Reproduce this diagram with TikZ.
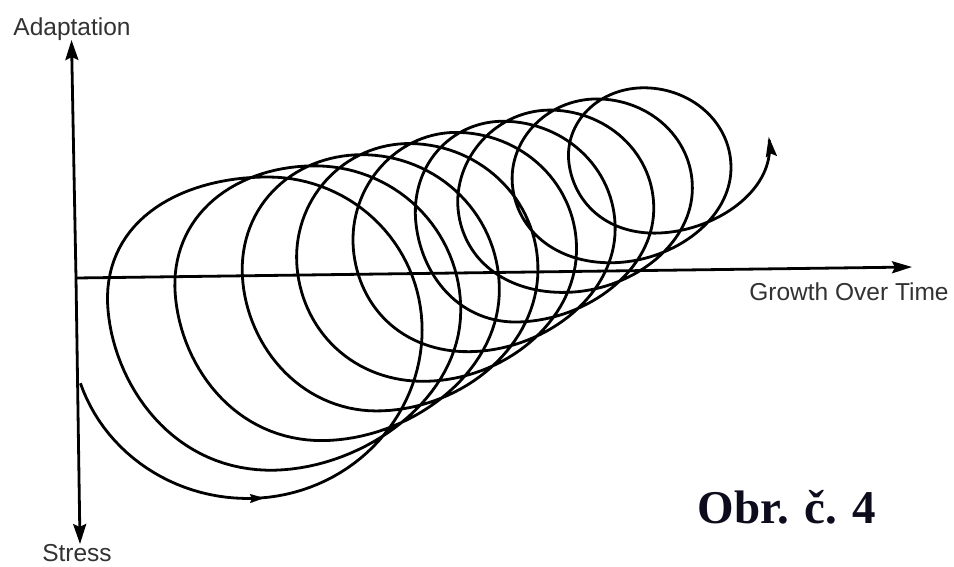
\documentclass[tikz,border=0pt]{standalone}
\usepackage{fontspec}
\setmainfont{Liberation Sans}
\newfontfamily\obrfont{Liberation Serif}
\usetikzlibrary{arrows.meta}
\definecolor{labgray}{RGB}{50,50,50}
\definecolor{obrcol}{RGB}{12,12,28}
\begin{document}
\begin{tikzpicture}[x=1pt,y=-1pt,
  declare function={
    cx(\t)=258+47*((\t-360)/360);
    cy(\t)=331-20.4*((\t-450)/360);
    rx(\t)=164-8.4*((\t-360)/360);
    ry(\t)=154-9.25*((\t-450)/360);
    sl(\t)=max(0,1-(\t-197)/120);
    fl(\t)=max(0,-cos(\t));
    fb(\t)=max(0,-sin(\t));
    kl(\t)=int(min(9,max(0,round((\t-180)/360))));
    kb(\t)=int(min(9,max(0,round((\t-270)/360))));
    lx(\k)={0,-14,-2,10,9,10,17,4,3,4}[\k];
    ly(\k)={0,-20,-13,-7,1,4,-3,6,3,0}[\k];
    bx(\k)={2,-18,-14,-6,-6,-8,-8,-6,-6,-9}[\k];
    px(\t)=cx(\t)+rx(\t)*cos(\t)+4*sl(\t)*sl(\t)+lx(kl(\t))*fl(\t)+bx(kb(\t))*fb(\t)*fb(\t);
    py(\t)=cy(\t)-ry(\t)*sin(\t)-9*sl(\t)*sl(\t)+ly(kl(\t))*fl(\t)*fl(\t);
  },
  axisline/.style={line width=2.8pt},
  bigtip/.style={-{Stealth[length=20pt,width=13pt,inset=3pt]}},
  spiral/.style={line width=2.8pt, line join=round},
  lab/.style={font=\fontsize{24.5}{28}\selectfont, text=labgray, inner sep=0pt, anchor=base},
]
\useasboundingbox (0,0) rectangle (954,566);
\fill[white] (0,0) rectangle (954,566);

% axes
\coordinate (vtop) at (71.5,40);
\coordinate (vbot) at (80,544);
\coordinate (vmid) at (76,278);
\coordinate (hend) at (912,267);
\draw[axisline,bigtip] (vmid) -- (vtop);
\draw[axisline,bigtip] (vmid) -- (vbot);
\draw[axisline,-{Stealth[length=20pt,width=12pt,inset=3pt]}] (vmid) -- (hend);

% spiral
\draw[spiral,-{Stealth[length=20pt,width=11pt,inset=3pt]}]
  plot[domain=197:3612, samples=1200, variable=\t] ({px(\t)}, {py(\t)});

% arrow on the first sweep
\coordinate (ma) at (246,498.6);
\coordinate (mb) at (264,498.1);
\draw[line width=0.1pt,-{Stealth[length=14pt,width=9pt,inset=2pt]}] (ma) -- (mb);

% labels
\node[lab] (adapt) at (72,35) {Adaptation};
\node[lab] (stress) at (77,561) {Stress};
\node[lab] (growth) at (849,300) {Growth Over Time};
\node[inner sep=0pt, anchor=base, text=obrcol, font=\obrfont\bfseries\fontsize{47}{52}\selectfont] (obr) at (787,523) {Obr. č. 4};
\end{tikzpicture}
\end{document}
